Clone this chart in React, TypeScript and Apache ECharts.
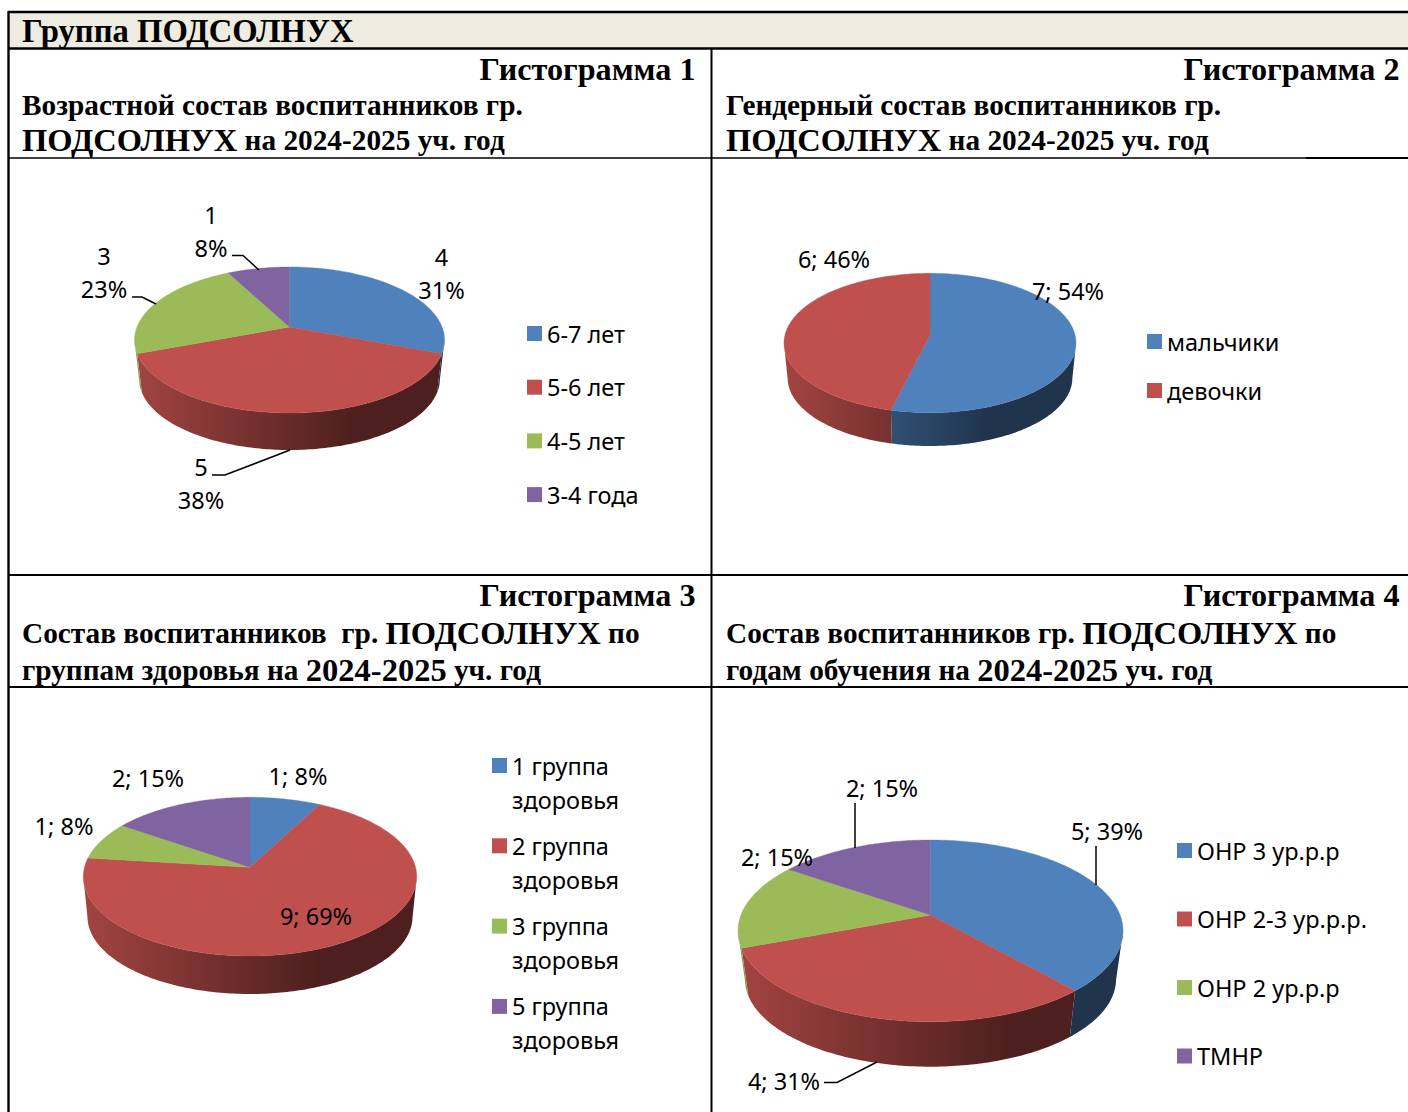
import React, { useEffect, useRef } from "react";
import * as echarts from "echarts";

// ---------- data ----------
const ageNames = ["6-7 лет", "5-6 лет", "4-5 лет", "3-4 года"];
const ageValues = [4, 5, 3, 1];
const agePercents = [31, 38, 23, 8];

const genderNames = ["мальчики", "девочки"];
const genderValues = [7, 6];
const genderPercents = [54, 46];

const healthNames = ["1 группа\nздоровья", "2 группа\nздоровья", "3 группа\nздоровья", "5 группа\nздоровья"];
const healthValues = [1, 9, 1, 2];
const healthPercents = [8, 69, 8, 15];

const yearNames = ["ОНР 3 ур.р.р", "ОНР 2-3 ур.р.р.", "ОНР 2 ур.р.р", "ТМНР"];
const yearValues = [5, 4, 2, 2];
const yearPercents = [39, 31, 15, 15];

// ---------- styles / layout ----------
const COLORS = ["#4f81bd", "#c0504d", "#9bbb59", "#8064a2"];
const SANS = "'Noto Sans', sans-serif";
const SERIF = "'Liberation Serif', serif";
const LABEL_SIZE = 23.5;

type Pie = {
  names: string[];
  values: number[];
  percents: number[];
  twoLine?: boolean;
  cx: number; apexY: number; top: number; faceBottom: number; rx: number; sideBottom: number; s: number;
  labels: number[][];
  leaders: (number[][] | null)[];
  legend: { x: number; top: number; gap: number; firstLineOnIcon?: boolean };
};

const pies: Pie[] = [
  {
    names: ageNames, values: ageValues, percents: agePercents, twoLine: true,
    cx: 289.5, apexY: 327, top: 267, faceBottom: 413, rx: 155, sideBottom: 450, s: 0.97,
    labels: [[441.5, 273.5], [201, 483], [104, 272.5], [211, 231]],
    leaders: [null, [[212, 475], [225, 475], [290, 450]], [[132, 297], [142, 297], [156, 304]], [[232, 255.5], [243, 255.5], [259, 270]]],
    legend: { x: 527, top: 316.5, gap: 19.7 },
  },
  {
    names: genderNames, values: genderValues, percents: genderPercents,
    cx: 930, apexY: 335, top: 273.3, faceBottom: 412.7, rx: 146, sideBottom: 446, s: 0.975,
    labels: [[1068, 290.5], [834, 258.5]],
    leaders: [null, null],
    legend: { x: 1147, top: 324.5, gap: 15 },
  },
  {
    names: healthNames, values: healthValues, percents: healthPercents,
    cx: 250, apexY: 867.3, top: 797.3, faceBottom: 956, rx: 166.7, sideBottom: 994, s: 0.975,
    labels: [[298, 775.5], [316, 915.5], [64, 825.5], [148, 777.5]],
    leaders: [null, null, null, null],
    legend: { x: 492, top: 714.5, gap: -21.7, firstLineOnIcon: true },
  },
  {
    names: yearNames, values: yearValues, percents: yearPercents,
    cx: 930.5, apexY: 915, top: 840, faceBottom: 1021.7, rx: 192.5, sideBottom: 1066.7, s: 0.964,
    labels: [[1107, 830.5], [784, 1080.5], [777, 856.5], [882, 787.5]],
    leaders: [[[1096, 846], [1096, 885]], [[824, 1082.5], [837, 1082.5], [877, 1062]], null, [[855, 803], [855, 848]]],
    legend: { x: 1177, top: 833.5, gap: 34.5 },
  },
];

function scale(hex: string, f: number) {
  const n = parseInt(hex.slice(1), 16);
  const c = [(n >> 16) & 255, (n >> 8) & 255, n & 255].map((v) => Math.round(v * f));
  return `rgb(${c[0]},${c[1]},${c[2]})`;
}

// Perspective projection of the unit circle: the apex is the circle's centre.
function projector(p: Pie) {
  const up = p.apexY - p.top;
  const down = p.faceBottom - p.apexY;
  const ratio = down / up;
  const k = (ratio - 1) / (ratio + 1);
  const B = down * (1 - k);
  const A = p.rx * Math.sqrt(1 - k * k);
  const depth = p.sideBottom - p.apexY - p.s * down;
  return {
    k,
    face: (deg: number) => {
      const t = (deg * Math.PI) / 180;
      const u = Math.sin(t);
      const v = -Math.cos(t);
      const w = 1 - k * v;
      return [p.cx + (u * A) / w, p.apexY + (v * B) / w, v];
    },
    base: (pt: number[]) => [p.cx + (pt[0] - p.cx) * p.s, p.apexY + (pt[1] - p.apexY) * p.s + depth],
  };
}

function sliceSeries(p: Pie, i: number) {
  const total = p.values.reduce((a, b) => a + b, 0);
  const before = p.values.slice(0, i).reduce((a, b) => a + b, 0);
  const color = COLORS[i];
  const proj = projector(p);
  return {
    type: "custom",
    name: p.names[i],
    coordinateSystem: "none",
    silent: true,
    clip: false,
    itemStyle: { color },
    data: [[p.values[i]]],
    renderItem: (_params: any, api: any) => {
      const value = api.value(0);
      const a0 = (before / total) * 360;
      const a1 = ((before + value) / total) * 360;
      const rim: number[][] = [];
      const n = Math.max(2, Math.ceil(a1 - a0));
      for (let j = 0; j <= n; j++) rim.push(proj.face(a0 + ((a1 - a0) * j) / n));
      const front = rim.filter((q) => q[2] >= proj.k);
      const children: any[] = [];
      if (front.length > 1) {
        const bottom = front.map(proj.base).reverse();
        children.push({
          type: "polygon",
          shape: { points: [...front.map((q) => [q[0], q[1]]), ...bottom] },
          style: {
            fill: {
              type: "linear", global: true,
              x: p.cx - p.rx, y: 0, x2: p.cx + p.rx, y2: 0,
              colorStops: [
                { offset: 0, color: scale(color, 0.85) },
                { offset: 0.7, color: scale(color, 0.4) },
                { offset: 1, color: scale(color, 0.4) },
              ],
            },
          },
        });
      }
      children.push({
        type: "polygon",
        shape: { points: [[p.cx, p.apexY], ...rim.map((q) => [q[0], q[1]])] },
        style: { fill: color, stroke: color, lineWidth: 0.4 },
      });
      const leader = p.leaders[i];
      if (leader) {
        children.push({
          type: "polyline", z2: 50,
          shape: { points: leader },
          style: { fill: "none", stroke: "#000", lineWidth: 1.5 },
        });
      }
      const pct = p.percents[i];
      children.push({
        type: "text", z2: 60,
        x: p.labels[i][0], y: p.labels[i][1],
        style: {
          text: p.twoLine ? `${value}\n${pct}%` : `${value}; ${pct}%`,
          fontFamily: SANS, fontSize: LABEL_SIZE, fill: "#000",
          align: "center", verticalAlign: "middle", lineHeight: 33,
        },
      });
      return { type: "group", children };
    },
  };
}

function legendOf(p: Pie) {
  return {
    data: p.names,
    orient: "vertical",
    left: p.legend.x,
    top: p.legend.top,
    padding: 0,
    itemWidth: 15,
    itemHeight: 15,
    itemGap: p.legend.gap,
    selectedMode: false,
    icon: "rect",
    // an empty first line centres the block on the name's first line, so the icon sits beside it
    formatter: (name: string) => (p.legend.firstLineOnIcon ? `\n${name}` : name),
    textStyle: { fontFamily: SANS, fontSize: LABEL_SIZE, color: "#000", lineHeight: 34 },
  };
}

const headTitle = "Группа ПОДСОЛНУХ";
const chartHeads = ["Гистограмма 1", "Гистограмма 2", "Гистограмма 3", "Гистограмма 4"];

function t(x: number, y: number, text: string, fontSize: number, align = "left", rich?: any) {
  return {
    type: "text", x, y, z: 10,
    style: {
      text, fontFamily: SERIF, fontWeight: "bold", fontSize, fill: "#000",
      align, verticalAlign: "middle", ...(rich ? { rich } : {}),
    },
  };
}
function ln(x1: number, y1: number, x2: number, y2: number, w = 2) {
  return { type: "line", z: 8, shape: { x1, y1, x2, y2 }, style: { stroke: "#000", lineWidth: w } };
}
const rs = {
  a: { fontFamily: SERIF, fontWeight: "bold", fontSize: 29.3, fill: "#000" },
  b: { fontFamily: SERIF, fontWeight: "bold", fontSize: 32.5, fill: "#000" },
};

const graphics = [
  { type: "rect", z: 5, shape: { x: 8, y: 12, width: 1400, height: 36 }, style: { fill: "#eeece1" } },
  ln(8, 12, 1408, 12, 2.4), ln(8, 48.5, 1408, 48.5, 2.4),
  ln(8.5, 11, 8.5, 1112, 2.4), ln(711.5, 48, 711.5, 1112, 2),
  ln(8, 158, 1306, 158, 1.6), ln(1306, 158, 1408, 158, 2),
  ln(8, 575, 1408, 575, 2), ln(8, 687, 1408, 687, 2),
  t(22, 31, headTitle, 32.7),
  t(695.5, 69, chartHeads[0], 32.2, "right"),
  t(1399.5, 69, chartHeads[1], 32.2, "right"),
  t(695.5, 595, chartHeads[2], 32.2, "right"),
  t(1399.5, 595, chartHeads[3], 32.2, "right"),
  t(22, 104.5, "Возрастной состав воспитанников гр.", 29.3),
  t(22, 139.5, "{b|ПОДСОЛНУХ}{a| на 2024-2025 уч. год}", 29.3, "left", rs),
  t(726, 104.5, "Гендерный состав воспитанников гр.", 29.3),
  t(726, 139.5, "{b|ПОДСОЛНУХ}{a| на 2024-2025 уч. год}", 29.3, "left", rs),
  t(22, 633, "{a|Состав воспитанников  гр. }{b|ПОДСОЛНУХ}{a| по}", 29.3, "left", rs),
  t(22, 670, "{a|группам здоровья на }{b|2024-2025}{a| уч. год}", 29.3, "left", rs),
  t(726, 633, "{a|Состав воспитанников гр. }{b|ПОДСОЛНУХ}{a| по}", 29.3, "left", rs),
  t(726, 670, "{a|годам обучения на }{b|2024-2025}{a| уч. год}", 29.3, "left", rs),
];

export default function App() {
  const ref = useRef<HTMLDivElement>(null);
  useEffect(() => {
    const chart = echarts.init(ref.current!, undefined, { renderer: "svg" });
    chart.setOption({
      animation: false,
      backgroundColor: "#fff",
      legend: pies.map(legendOf),
      graphic: graphics,
      series: pies.flatMap((p) => p.values.map((_, i) => sliceSeries(p, i))),
    } as any);
    return () => chart.dispose();
  }, []);
  return <div ref={ref} style={{ position: "fixed", left: 0, top: 0, width: 1408, height: 1112 }} />;
}
